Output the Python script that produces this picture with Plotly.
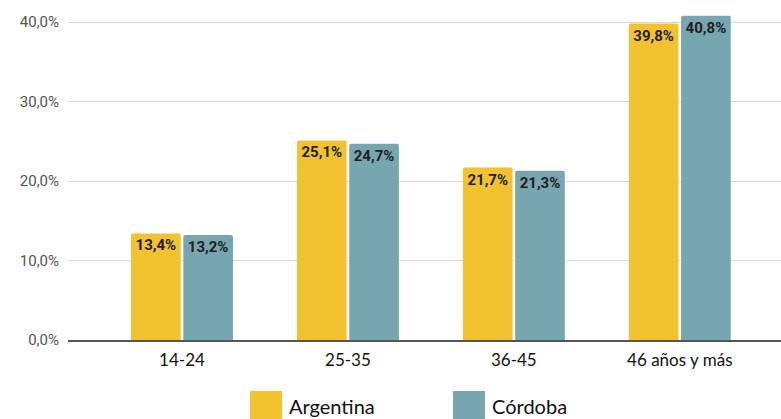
import plotly.graph_objects as go

categorias = ["14-24", "25-35", "36-45", "46 años y más"]
series = ["Argentina", "Córdoba"]
argentina = [13.4, 25.1, 21.7, 39.8]
cordoba = [13.2, 24.7, 21.3, 40.8]
colores = ["#F2C230", "#78A6B0"]
ticks_y = [0, 10, 20, 30, 40]
ticks_y_txt = ["0,0%", "10,0%", "20,0%", "30,0%", "40,0%"]


def pct(v):
    return f"{v:.1f}%".replace(".", ",")


fig = go.Figure()
for nombre, valores, color in zip(series, [argentina, cordoba], colores):
    fig.add_trace(go.Bar(
        x=categorias, y=valores, name=nombre,
        marker=dict(color=color, cornerradius=2, line=dict(width=0)),
        text=[pct(v) for v in valores],
        textposition="inside", insidetextanchor="end",
        textangle=0,
        textfont=dict(family="Roboto, Arial, sans-serif", size=15,
                      color="#1f1f1f", weight="bold"),
        showlegend=False,
    ))

fig.update_layout(
    width=781, height=419,
    margin=dict(l=68, r=0, t=0, b=79),
    paper_bgcolor="white", plot_bgcolor="white",
    barmode="group", bargap=0.37, bargroupgap=0.05,
    uniformtext=dict(minsize=8, mode="show"),
    xaxis=dict(
        range=[-0.687, 3.61],
        tickfont=dict(family="Lato, Open Sans, sans-serif",
                      size=17, color="#111111"),
        ticklabelstandoff=4,
        showline=True, linecolor="#555555", linewidth=1.5,
        ticks="", showgrid=False,
    ),
    yaxis=dict(
        range=[0, 42.77],
        tickvals=ticks_y, ticktext=ticks_y_txt,
        tickfont=dict(family="Roboto, Arial, sans-serif", size=15,
                      color="#555555"),
        ticklabelstandoff=8,
        gridcolor="#d9d9d9", gridwidth=1,
        zeroline=False, ticks="", ticklen=0,
    ),
)

# Leyenda con cuadros grandes bajo el eje
h_plot = 340
leyenda_x = [250, 453]
for nombre, color, px in zip(series, colores, leyenda_x):
    x0 = (px - 68) / 713
    fig.add_shape(type="rect", xref="paper", yref="paper",
                  x0=x0, x1=x0 + 32 / 713,
                  y0=-(419 - 340) / h_plot, y1=-(391 - 340) / h_plot,
                  fillcolor=color, line=dict(width=0))
    fig.add_annotation(x=x0 + 37 / 713, y=-(406 - 340) / h_plot,
                       xref="paper", yref="paper",
                       text=nombre, showarrow=False, xanchor="left",
                       yanchor="middle",
                       font=dict(family="Lato, Open Sans, sans-serif",
                                 size=20, color="#111111"))

fig.write_html("out.html")
